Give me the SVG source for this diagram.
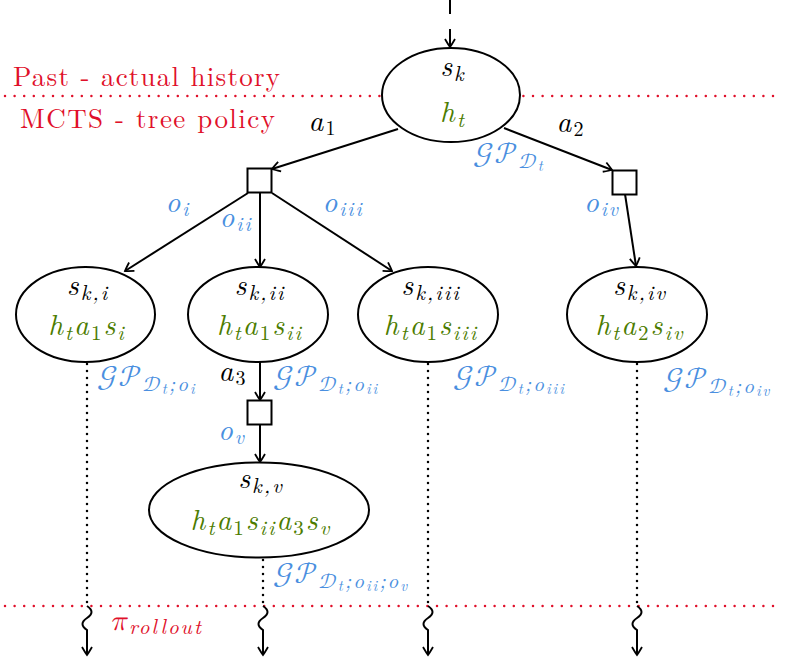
<svg xmlns="http://www.w3.org/2000/svg" width="785" height="661" viewBox="0 0 785 661">
<style>
.m{font-family:"Latin Modern Roman","Latin Modern Math","Liberation Serif",serif;font-style:italic;font-size:29px;fill:#000;letter-spacing:2px}
.g{fill:#4c7c00}
.b{fill:#4a8fe0}
.r{fill:#e0102a}
.up{font-style:normal}
.cal{font-family:"Latin Modern Math","DejaVu Sans",serif;font-style:normal;font-weight:normal;letter-spacing:1px}
.node{fill:#fff;stroke:#000;stroke-width:2}
.edge{stroke:#000;stroke-width:2;fill:none}
.dot{stroke:#000;stroke-width:2.5;fill:none;stroke-linecap:round;stroke-dasharray:0 7}
.rdot{stroke:#e0102a;stroke-width:2.5;fill:none;stroke-linecap:round;stroke-dasharray:0 9.6}
.lab{font-family:"Latin Modern Roman","Liberation Serif",serif;font-size:27px}
</style>
<defs>
<marker id="ar" viewBox="-10 -6 12 12" refX="0" refY="0" markerWidth="12" markerHeight="12" markerUnits="userSpaceOnUse" orient="auto">
<path d="M-8,-5 Q-2,-1.5 0,0 Q-2,1.5 -8,5" fill="none" stroke="#000" stroke-width="1.8"/>
</marker>
</defs>
<g id="separators">
<line class="rdot" x1="5" y1="96" x2="780" y2="96"/>
<line class="rdot" x1="5" y1="606" x2="780" y2="606"/>
<text class="r lab" x="13" y="86" textLength="267" lengthAdjust="spacing">Past - actual history</text>
<text class="r lab" x="20" y="128" textLength="255" lengthAdjust="spacing">MCTS - tree policy</text>
</g>
<g id="connectors">
<line class="edge" x1="450" y1="0" x2="450" y2="14"/>
<line class="edge" x1="450" y1="29" x2="450" y2="47" marker-end="url(#ar)"/>
<line class="edge" x1="398" y1="129" x2="272" y2="169" marker-end="url(#ar)"/>
<line class="edge" x1="504" y1="128" x2="612" y2="170" marker-end="url(#ar)"/>
<line class="edge" x1="248" y1="193" x2="125" y2="271" marker-end="url(#ar)"/>
<line class="edge" x1="260" y1="193" x2="260" y2="267" marker-end="url(#ar)"/>
<line class="edge" x1="272" y1="193" x2="392" y2="271" marker-end="url(#ar)"/>
<line class="edge" x1="625" y1="194" x2="636" y2="266" marker-end="url(#ar)"/>
<line class="edge" x1="260" y1="362" x2="260" y2="400" marker-end="url(#ar)"/>
<line class="edge" x1="260" y1="425" x2="260" y2="462" marker-end="url(#ar)"/>
<line class="dot" x1="87" y1="364" x2="87" y2="606"/>
<line class="dot" x1="428" y1="364" x2="428" y2="606"/>
<line class="dot" x1="637" y1="364" x2="637" y2="606"/>
<line class="dot" x1="263" y1="560" x2="263" y2="606"/>
<path class="edge" d="M87,606 c6,4 6,8 0,12 c-6,4 -6,8 0,12 L87,655" marker-end="url(#ar)"/>
<path class="edge" d="M263,606 c6,4 6,8 0,12 c-6,4 -6,8 0,12 L263,655" marker-end="url(#ar)"/>
<path class="edge" d="M428,606 c6,4 6,8 0,12 c-6,4 -6,8 0,12 L428,655" marker-end="url(#ar)"/>
<path class="edge" d="M637,606 c6,4 6,8 0,12 c-6,4 -6,8 0,12 L637,655" marker-end="url(#ar)"/>
<text class="m" x="323" y="131" text-anchor="middle">a<tspan class="up" font-size="20" dy="4">1</tspan></text>
<text class="m" x="571" y="132" text-anchor="middle">a<tspan class="up" font-size="20" dy="4">2</tspan></text>
<text class="m" x="233" y="381" text-anchor="middle">a<tspan class="up" font-size="20" dy="4">3</tspan></text>
<text class="m b" x="178" y="212" text-anchor="middle">o<tspan font-size="20" dy="4">i</tspan></text>
<text class="m b" x="236" y="227" text-anchor="middle">o<tspan font-size="20" dy="4">ii</tspan></text>
<text class="m b" x="343" y="212" text-anchor="middle">o<tspan font-size="20" dy="4">iii</tspan></text>
<text class="m b" x="602" y="212" text-anchor="middle">o<tspan font-size="20" dy="4">iv</tspan></text>
<text class="m b" x="232" y="440" text-anchor="middle">o<tspan font-size="20" dy="4">v</tspan></text>
<text class="m b" x="473" y="163"><tspan class="cal" font-size="30">𝒢𝒫</tspan><tspan class="cal" font-size="21" dy="5">𝒟</tspan><tspan font-size="15" dy="3">t</tspan></text>
<text class="m b" x="97" y="386"><tspan class="cal" font-size="30">𝒢𝒫</tspan><tspan class="cal" font-size="21" dy="5">𝒟</tspan><tspan font-size="15" dy="3">t</tspan><tspan font-size="21" dy="-3">;o</tspan><tspan font-size="15" dy="3">i</tspan></text>
<text class="m b" x="273" y="386"><tspan class="cal" font-size="30">𝒢𝒫</tspan><tspan class="cal" font-size="21" dy="5">𝒟</tspan><tspan font-size="15" dy="3">t</tspan><tspan font-size="21" dy="-3">;o</tspan><tspan font-size="15" dy="3">ii</tspan></text>
<text class="m b" x="453" y="386"><tspan class="cal" font-size="30">𝒢𝒫</tspan><tspan class="cal" font-size="21" dy="5">𝒟</tspan><tspan font-size="15" dy="3">t</tspan><tspan font-size="21" dy="-3">;o</tspan><tspan font-size="15" dy="3">iii</tspan></text>
<text class="m b" x="663" y="388"><tspan class="cal" font-size="30">𝒢𝒫</tspan><tspan class="cal" font-size="21" dy="5">𝒟</tspan><tspan font-size="15" dy="3">t</tspan><tspan font-size="21" dy="-3">;o</tspan><tspan font-size="15" dy="3">iv</tspan></text>
<text class="m b" x="273" y="583"><tspan class="cal" font-size="30">𝒢𝒫</tspan><tspan class="cal" font-size="21" dy="5">𝒟</tspan><tspan font-size="15" dy="3">t</tspan><tspan font-size="21" dy="-3">;o</tspan><tspan font-size="15" dy="3">ii</tspan><tspan font-size="21" dy="-3">;o</tspan><tspan font-size="15" dy="3">v</tspan></text>
<text class="m r" x="110" y="630">π<tspan font-size="21" dy="4">rollout</tspan></text>
</g>
<g id="sk">
<ellipse class="node" cx="451" cy="95" rx="69" ry="47"/>
<text class="m" x="453" y="76" text-anchor="middle">s<tspan font-size="21" dy="5">k</tspan></text>
<text class="m g" x="453" y="122" text-anchor="middle">h<tspan font-size="21" dy="5">t</tspan></text>
</g>
<g id="sq1"><rect class="node" x="247.5" y="168.5" width="24" height="24"/></g>
<g id="sq2"><rect class="node" x="612.5" y="170.5" width="24" height="24"/></g>
<g id="sq3"><rect class="node" x="247.5" y="400.5" width="24" height="24"/></g>
<g id="ski">
<ellipse class="node" cx="85.5" cy="314.5" rx="69.5" ry="47.5"/>
<text class="m" x="88" y="295" text-anchor="middle">s<tspan font-size="21" dy="5">k,i</tspan></text>
<text class="m g" x="87" y="335" text-anchor="middle">h<tspan font-size="21" dy="5">t</tspan><tspan dy="-5">a</tspan><tspan class="up" font-size="21" dy="5">1</tspan><tspan dy="-5">s</tspan><tspan font-size="21" dy="5">i</tspan></text>
</g>
<g id="skii">
<ellipse class="node" cx="258" cy="314.5" rx="70" ry="47.5"/>
<text class="m" x="260" y="295" text-anchor="middle">s<tspan font-size="21" dy="5">k,ii</tspan></text>
<text class="m g" x="260" y="335" text-anchor="middle">h<tspan font-size="21" dy="5">t</tspan><tspan dy="-5">a</tspan><tspan class="up" font-size="21" dy="5">1</tspan><tspan dy="-5">s</tspan><tspan font-size="21" dy="5">ii</tspan></text>
</g>
<g id="skiii">
<ellipse class="node" cx="428" cy="314.5" rx="70" ry="47.5"/>
<text class="m" x="431" y="295" text-anchor="middle">s<tspan font-size="21" dy="5">k,iii</tspan></text>
<text class="m g" x="431" y="335" text-anchor="middle">h<tspan font-size="21" dy="5">t</tspan><tspan dy="-5">a</tspan><tspan class="up" font-size="21" dy="5">1</tspan><tspan dy="-5">s</tspan><tspan font-size="21" dy="5">iii</tspan></text>
</g>
<g id="skiv">
<ellipse class="node" cx="637" cy="314.5" rx="70" ry="47.5"/>
<text class="m" x="640" y="295" text-anchor="middle">s<tspan font-size="21" dy="5">k,iv</tspan></text>
<text class="m g" x="640" y="335" text-anchor="middle">h<tspan font-size="21" dy="5">t</tspan><tspan dy="-5">a</tspan><tspan class="up" font-size="21" dy="5">2</tspan><tspan dy="-5">s</tspan><tspan font-size="21" dy="5">iv</tspan></text>
</g>
<g id="skv">
<ellipse class="node" cx="259" cy="510" rx="110" ry="47.5"/>
<text class="m" x="261" y="488" text-anchor="middle">s<tspan font-size="21" dy="5">k,v</tspan></text>
<text class="m g" x="261" y="530" text-anchor="middle">h<tspan font-size="21" dy="5">t</tspan><tspan dy="-5">a</tspan><tspan class="up" font-size="21" dy="5">1</tspan><tspan dy="-5">s</tspan><tspan font-size="21" dy="5">ii</tspan><tspan dy="-5">a</tspan><tspan class="up" font-size="21" dy="5">3</tspan><tspan dy="-5">s</tspan><tspan font-size="21" dy="5">v</tspan></text>
</g>
</svg>
